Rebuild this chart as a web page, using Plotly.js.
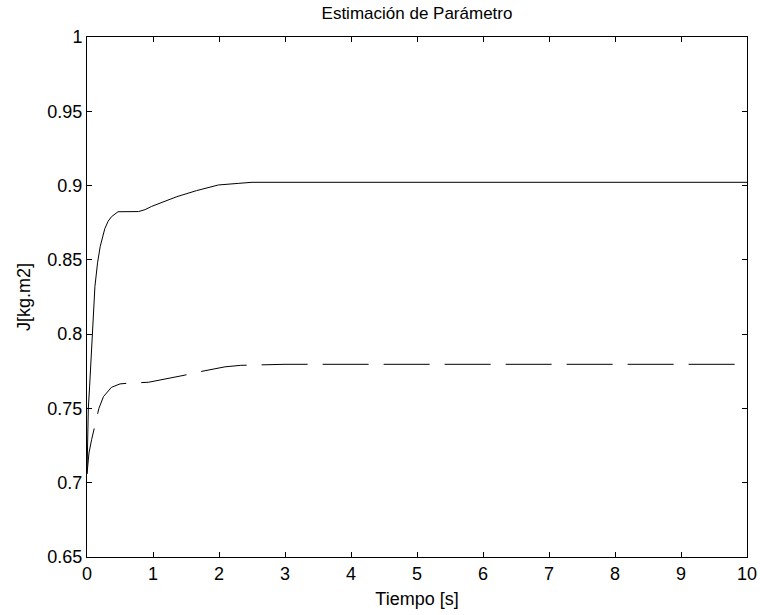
<!DOCTYPE html>
<html>
<head>
<meta charset="utf-8">
<script src="https://cdn.plot.ly/plotly-3.0.1.min.js"></script>
<style>html,body{margin:0;padding:0;background:#fff;}</style>
</head>
<body>
<div id="chart" style="width:760px;height:615px;"></div>
<script>
// Solid series (estimated parameter)
const tSolid = [0, 0.01, 0.02, 0.04, 0.06, 0.08, 0.1, 0.12, 0.16, 0.2, 0.27, 0.32, 0.37, 0.42, 0.47, 0.78, 0.88, 0.98, 1.2, 1.36, 1.66, 1.99, 2.3, 2.5, 10];
const jSolid = [0.706, 0.73, 0.75, 0.765, 0.78, 0.80, 0.818, 0.832, 0.848, 0.859, 0.871, 0.876, 0.879, 0.881, 0.8824, 0.8825, 0.8838, 0.886, 0.890, 0.8925, 0.8966, 0.9004, 0.9015, 0.9022, 0.9022];
// Dashed series
const tDash = [0, 0.03, 0.07, 0.12, 0.18, 0.25, 0.37, 0.5, 0.6, 0.93, 1.24, 1.47, 1.71, 2.09, 2.33, 3.0, 10];
const jDash = [0.706, 0.72, 0.729, 0.739, 0.750, 0.758, 0.7642, 0.7665, 0.7669, 0.7676, 0.770, 0.7723, 0.7747, 0.778, 0.779, 0.7797, 0.7797];
const xTicks = [0,1,2,3,4,5,6,7,8,9,10];
const yTicks = [0.65,0.7,0.75,0.8,0.85,0.9,0.95,1];
const yTickText = ['0.65','0.7','0.75','0.8','0.85','0.9','0.95','1'];

const traces = [
  {x: tSolid, y: jSolid, type: 'scatter', mode: 'lines', line: {color: '#000', width: 1}, hoverinfo: 'skip'},
  {x: tDash, y: jDash, type: 'scatter', mode: 'lines', line: {color: '#000', width: 1, dash: '46px,15px'}, hoverinfo: 'skip'}
];
const font = {family: 'Liberation Sans, Arial, sans-serif', color: '#000'};
const layout = {
  width: 760, height: 615,
  margin: {l: 87, r: 13, t: 37, b: 58, pad: 0},
  paper_bgcolor: '#fff', plot_bgcolor: '#fff',
  showlegend: false,
  title: {text: 'Estimación de Parámetro', font: Object.assign({size: 17}, font), x: 0.5, xanchor: 'center', xref: 'paper', y: 1, yref: 'paper', yanchor: 'bottom', pad: {b: 18}},
  xaxis: {
    range: [0, 10], tickvals: xTicks, ticktext: xTicks.map(String),
    ticks: 'inside', ticklen: 5, tickcolor: '#000', tickwidth: 1,
    showline: true, linecolor: '#000', linewidth: 1, mirror: 'ticks',
    showgrid: false, zeroline: false,
    tickfont: Object.assign({size: 18}, font),
    title: {text: 'Tiempo [s]', font: Object.assign({size: 18}, font), standoff: 9}
  },
  yaxis: {
    range: [0.65, 1], tickvals: yTicks, ticktext: yTickText,
    ticks: 'inside', ticklen: 5, tickcolor: '#000', tickwidth: 1,
    showline: true, linecolor: '#000', linewidth: 1, mirror: 'ticks',
    showgrid: false, zeroline: false,
    tickfont: Object.assign({size: 18}, font),
    title: {text: 'J[kg.m2]', font: Object.assign({size: 18}, font), standoff: 12}
  }
};
Plotly.newPlot('chart', traces, layout, {staticPlot: true, displayModeBar: false});
</script>
</body>
</html>
